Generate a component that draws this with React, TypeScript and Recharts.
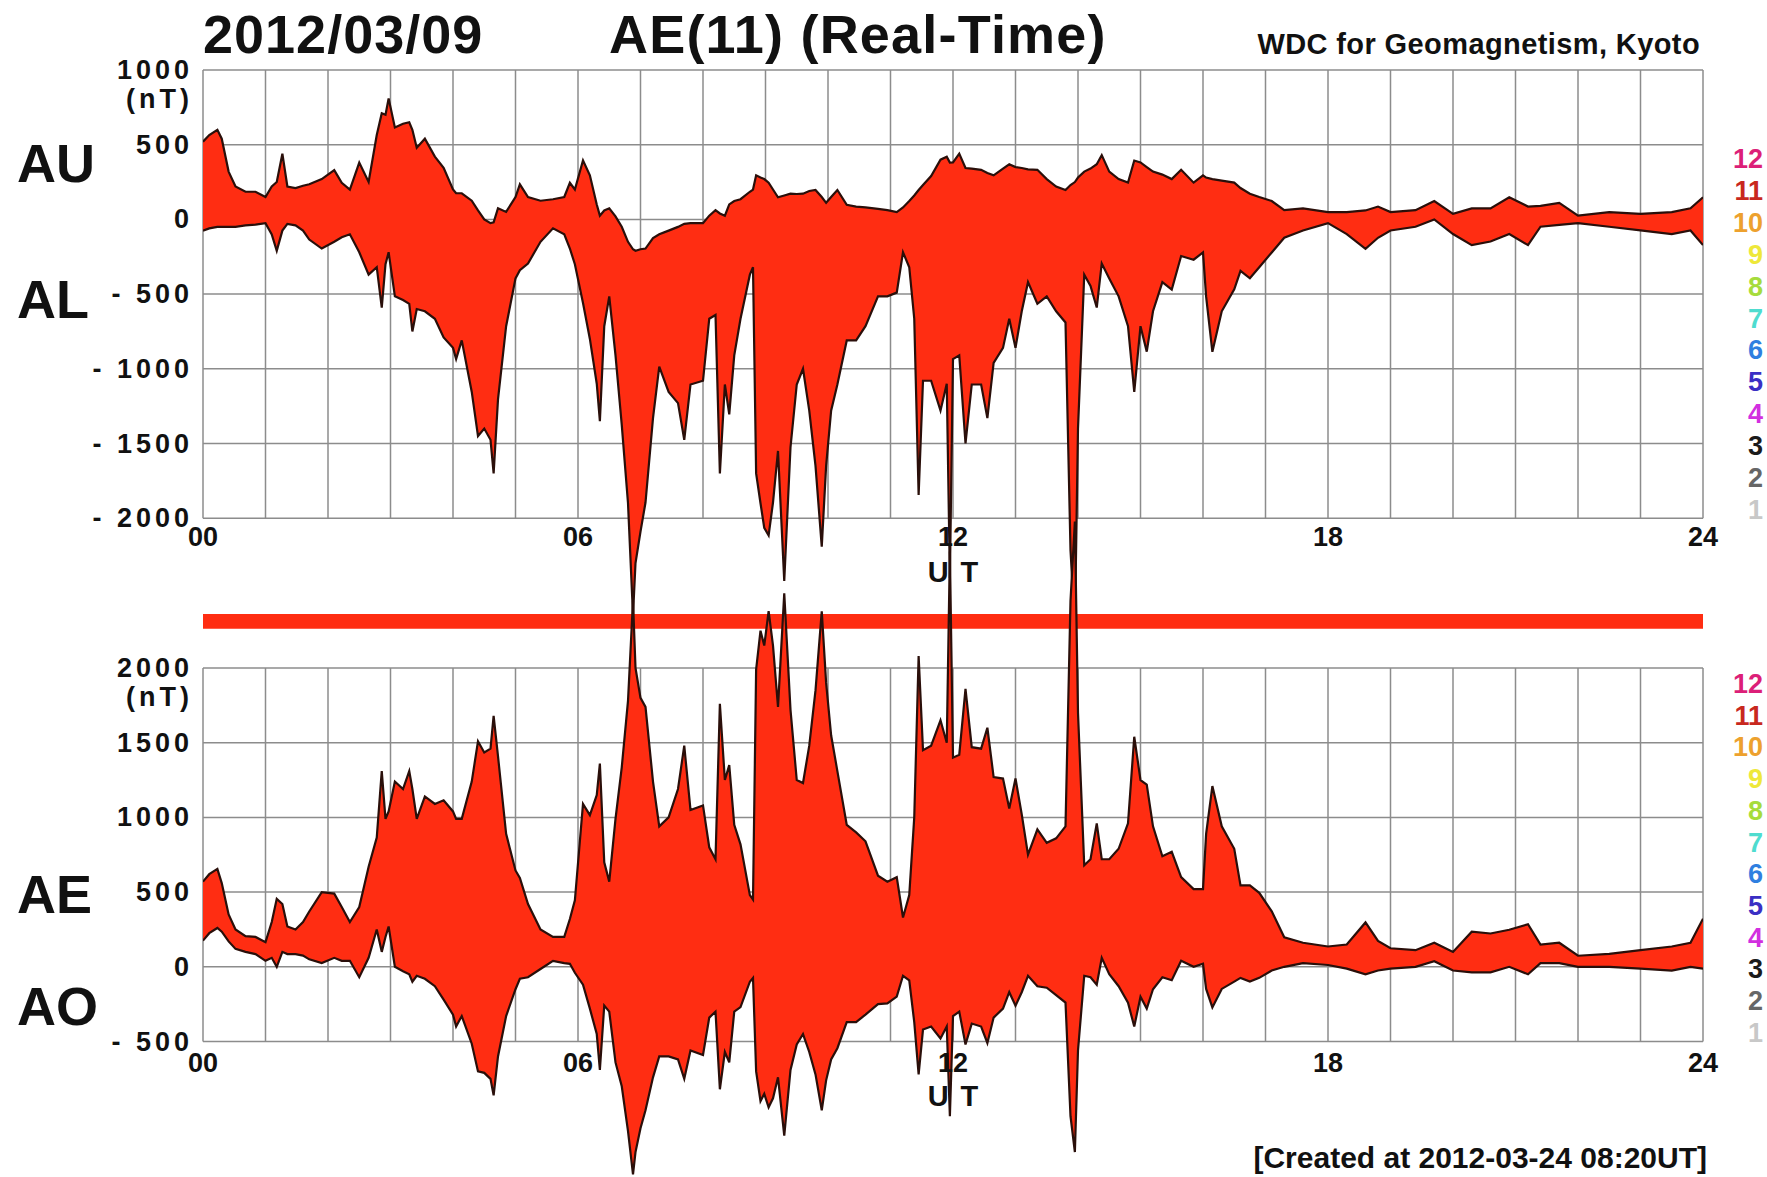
import React from 'react';
import { ComposedChart, Area, XAxis, YAxis, ReferenceLine, ReferenceArea } from 'recharts';

// UT hours of the samples, shared by all four indices
const hours = [
  0, 0.1, 0.23, 0.3, 0.41, 0.52, 0.68, 0.84, 1.0, 1.1, 1.18, 1.27, 1.35, 1.48, 1.6, 1.7, 1.9, 2.1, 2.22, 2.35, 2.5,
  2.65, 2.78, 2.86, 2.92, 2.97, 3.07, 3.2, 3.3, 3.35, 3.42, 3.55, 3.71, 3.85, 4.0, 4.05, 4.14, 4.3, 4.4, 4.5, 4.6,
  4.65, 4.72, 4.85, 5.0, 5.07, 5.2, 5.4, 5.6, 5.78, 5.87, 5.95,
  6.08, 6.19, 6.3, 6.35, 6.42, 6.5, 6.6, 6.7, 6.8, 6.88, 6.92, 7.0, 7.08, 7.2, 7.3, 7.45, 7.6, 7.7, 7.8,
  8.0, 8.1, 8.2, 8.27, 8.35, 8.42, 8.5, 8.6, 8.75, 8.8, 8.85, 8.92, 8.98, 9.05, 9.12, 9.2, 9.3, 9.4, 9.5, 9.6,
  9.7, 9.8, 9.9, 9.97, 10.05, 10.15, 10.3, 10.45, 10.6, 10.8, 10.95, 11.1, 11.2, 11.3, 11.38, 11.45, 11.52, 11.65, 11.8, 11.9, 11.95,
  12.0, 12.1, 12.2, 12.3, 12.45, 12.55, 12.65, 12.8, 12.9, 13.0, 13.1, 13.2, 13.35, 13.5, 13.65, 13.8, 13.88, 13.95, 14.0, 14.1,
  14.2, 14.3, 14.38, 14.5, 14.65, 14.8, 14.9, 15.0, 15.1, 15.2, 15.35, 15.5, 15.65, 15.85,
  16.0, 16.05, 16.15, 16.3, 16.5, 16.6, 16.75, 16.9, 17.1, 17.3, 17.6, 18.0, 18.3, 18.6, 18.8, 19.0, 19.4, 19.7, 20.0, 20.3,
  20.6, 20.9, 21.2, 21.4, 21.7, 22.0, 22.5, 23.0, 23.5, 23.8, 24.0,
];

// AU (nT)
const au = [
  520, 565, 600, 540, 320, 220, 185, 185, 150, 220, 250, 440, 220, 210, 225, 235, 270, 330, 245, 200, 380,
  250, 565, 710, 700, 810, 615, 640, 650, 600, 480, 540, 420, 345, 200, 175, 175, 125, 60, 0, -25,
  -20, 75, 50, 150, 235, 150, 125, 135, 150, 245, 200,
  395, 295, 100, 25, 60, 74, 20, -49, -150, -200, -210, -200, -195, -125, -100, -75, -50, -30, -25,
  -25, 25, 62, 40, 25, 100, 123, 135, 185, 200, 295, 280, 270, 246, 200, 148, 160, 172, 170, 172,
  190, 197, 150, 111, 150, 197, 98, 86, 80, 70, 62, 49, 80, 123, 160, 197, 230, 290, 400, 420, 380,
  381, 440, 344, 340, 332, 310, 295, 340, 369, 350, 344, 335, 332, 270, 220, 197, 230, 250, 280, 320,
  340, 369, 430, 320, 270, 246, 394, 381, 350, 320, 300, 270, 332, 246,
  295, 280, 270, 260, 246, 210, 172, 150, 123, 62, 74, 49, 49, 60, 86, 49, 62, 123, 37, 74,
  74, 148, 86, 90, 111, 25, 49, 37, 49, 74, 148,
];

// AL (nT)
const al = [
  -75, -60, -50, -50, -50, -50, -40, -35, -25, -100, -210, -75, -30, -40, -75, -135, -195, -150, -120, -100, -220,
  -370, -320, -590, -300, -220, -515, -540, -565, -750, -600, -615, -665, -790, -860, -935, -810, -1155, -1450, -1400, -1475,
  -1700, -1205, -715, -395, -340, -295, -150, -60, -100, -195, -300,
  -560, -800, -1100, -1350, -715, -515, -910, -1375, -1900, -2650, -2300, -2090, -1895, -1330, -985, -1155, -1230, -1475, -1105,
  -1080, -665, -640, -1700, -1105, -1305, -910, -665, -370, -320, -1700, -1900, -2065, -2115, -1895, -1550, -2420, -1525, -1105, -1000,
  -1280, -1650, -2190, -1650, -1280, -1105, -810, -810, -715, -515, -515, -490, -220, -320, -665, -1845, -1080, -1080, -1280, -1100, -2400,
  -935, -910, -1500, -1105, -1105, -1330, -960, -860, -665, -860, -615, -420, -565, -515, -615, -690, -2215, -2730, -1400, -370,
  -445, -590, -295, -395, -515, -715, -1155, -715, -885, -615, -420, -470, -245, -270,
  -221, -517, -886, -615, -468, -344, -394, -320, -221, -123, -74, -25, -98, -197, -123, -74, -49, 0, -98, -172,
  -148, -98, -172, -49, -37, -25, -49, -74, -98, -74, -172,
];

// AE (nT)
const ae = [
  570, 620, 655, 560, 350, 250, 205, 200, 165, 300, 455, 420, 270, 250, 300, 370, 500, 490, 400, 300, 400,
  670, 865, 1310, 990, 1040, 1240, 1190, 1310, 1190, 990, 1140, 1090, 1115, 1040, 990, 990, 1240, 1510, 1435, 1460,
  1680, 1410, 890, 645, 595, 420, 250, 200, 200, 320, 445,
  1090, 1015, 1150, 1360, 700, 570, 990, 1335, 1780, 2450, 2000, 1800, 1740, 1240, 940, 1000, 1190, 1480, 1050,
  1080, 800, 720, 1760, 1250, 1350, 950, 820, 480, 450, 1990, 2250, 2150, 2380, 2150, 1740, 2500, 1720, 1250, 1230,
  1480, 1850, 2380, 1900, 1550, 1310, 950, 900, 840, 610, 570, 600, 330, 480, 1000, 2080, 1450, 1480, 1650, 1500, 2780,
  1400, 1420, 1860, 1470, 1460, 1600, 1270, 1260, 1060, 1260, 1020, 750, 920, 830, 860, 940, 2450, 2980, 1700, 680,
  720, 960, 720, 720, 790, 960, 1540, 1250, 1220, 940, 740, 770, 600, 520,
  520, 890, 1210, 940, 790, 545, 545, 495, 371, 198, 161, 136, 149, 297, 173, 124, 111, 161, 99, 235,
  223, 248, 285, 149, 161, 74, 87, 111, 136, 161, 322,
];

// AO (nT)
const ao = [
  175, 225, 260, 235, 170, 120, 100, 85, 40, 60, 0, 100, 85, 85, 75, 50, 25, 60, 40, 40, -70,
  60, 250, 100, 200, 270, 0, -30, -50, -100, -60, -80, -130, -220, -320, -400, -330, -515, -700, -710, -750,
  -860, -600, -330, -150, -80, -70, -15, 40, 25, 20, -40,
  -120, -280, -450, -690, -260, -300, -640, -800, -1100, -1390, -1240, -1080, -960, -740, -600, -600, -620, -750, -560,
  -590, -340, -300, -820, -570, -640, -300, -270, -100, -75, -700, -900, -850, -940, -880, -740, -1130, -690, -520, -450,
  -570, -720, -960, -760, -620, -545, -370, -370, -320, -250, -245, -200, -60, -90, -370, -720, -420, -400, -480, -400, -1000,
  -330, -300, -520, -380, -400, -510, -340, -280, -170, -260, -170, -60, -130, -140, -190, -240, -1000, -1240, -560, -60,
  -70, -120, 60, -50, -130, -240, -400, -200, -280, -150, -70, -90, 40, 0,
  20, -148, -272, -148, -99, -74, -99, -74, -25, 0, 25, 12, -12, -50, -25, -12, 0, 37, -25, -37,
  -37, 0, -50, 25, 25, 0, 0, -12, -25, 0, -12,
];

const topTicks = [1000, 500, 0, -500, -1000, -1500, -2000];
const bottomTicks = [2000, 1500, 1000, 500, 0, -500];
const hourTicks = [0, 6, 12, 18, 24];
const gridHours = Array.from({ length: 25 }, (_, i) => i);

const stationLabels = ['12', '11', '10', '9', '8', '7', '6', '5', '4', '3', '2', '1'];
const stationColors = ['#dc1f78', '#c8281e', '#eda12e', '#eee83a', '#a6dc3c', '#4fdccf', '#2f7fe0', '#3a2fc4', '#d22fe0', '#1a1a1a', '#666666', '#c8c8c8'];

const data = hours.map((h, i) => ({ h, top: [al[i], au[i]], bot: [ao[i], ae[i]] }));

const W = 1767;
const H = 1177;
const PX = 0.1494; // pixels per nT, same in both panels
const TOP_Y0 = 70; // y of the 1000 nT line of the upper panel
const BOT_Y0 = 668; // y of the 2000 nT line of the lower panel
const topDomain = [1000 - (H - TOP_Y0) / PX, 1000 + TOP_Y0 / PX];
const botDomain = [2000 - (H - BOT_Y0) / PX, 2000 + BOT_Y0 / PX];

const FONT = '"Liberation Sans", Arial, Helvetica, sans-serif';
const RED = '#ff2d12';
const OUTLINE = '#2a0f0a';
const GRID = '#8c8c8c';

function YTick(props: any) {
  const { y, payload, unitAt } = props;
  const v = payload.value;
  const label = v < 0 ? `- ${Math.abs(v)}` : String(v);
  const common = { textAnchor: 'end' as const, fontFamily: FONT, fontWeight: 'bold', fontSize: 27, letterSpacing: 4, fill: '#111' };
  return (
    <g>
      <text x={193} y={y + 9} {...common}>{label}</text>
      {v === unitAt && <text x={193} y={y + 38} {...common}>(nT)</text>}
    </g>
  );
}

function XTick(props: any) {
  const { x, payload } = props;
  const label = String(payload.value).padStart(2, '0');
  const common = { textAnchor: 'middle' as const, fontFamily: FONT, fontWeight: 'bold', fill: '#111' };
  return (
    <g>
      <text x={x} y={546} fontSize={27} {...common}>{label}</text>
      <text x={x} y={1072} fontSize={27} {...common}>{label}</text>
      {payload.value === 12 && (
        <>
          <text x={x + 6} y={582} fontSize={29} letterSpacing={12} {...common}>UT</text>
          <text x={x + 6} y={1106} fontSize={29} letterSpacing={12} {...common}>UT</text>
        </>
      )}
    </g>
  );
}

function Labels() {
  const big = { fontFamily: FONT, fontWeight: 'bold', fontSize: 54, fill: '#111' };
  return (
    <svg width={W} height={H} style={{ position: 'absolute', left: 0, top: 0, pointerEvents: 'none' }}>
      <text x={203} y={53} {...big} letterSpacing={1}>2012/03/09</text>
      <text x={609} y={53} {...big} letterSpacing={1.2}>AE(11) (Real-Time)</text>
      <text x={1700} y={54} textAnchor="end" fontFamily={FONT} fontWeight="bold" fontSize={29} letterSpacing={0.4} fill="#111">WDC for Geomagnetism, Kyoto</text>
      <text x={1707} y={1168} textAnchor="end" fontFamily={FONT} fontWeight="bold" fontSize={30} fill="#111">[Created at 2012-03-24 08:20UT]</text>
      <text x={17} y={182} {...big}>AU</text>
      <text x={17} y={318} {...big}>AL</text>
      <text x={17} y={913} {...big}>AE</text>
      <text x={17} y={1025} {...big}>AO</text>
      {stationLabels.map((s, i) => (
        <g key={s}>
          <text x={1763} y={168 + i * 31.9} textAnchor="end" fontFamily={FONT} fontWeight="bold" fontSize={27} fill={stationColors[i]}>{s}</text>
          <text x={1763} y={693 + i * 31.7} textAnchor="end" fontFamily={FONT} fontWeight="bold" fontSize={27} fill={stationColors[i]}>{s}</text>
        </g>
      ))}
    </svg>
  );
}

export default function App() {
  return (
    <div style={{ position: 'absolute', left: 0, top: 0, width: W, height: H, background: '#fff' }}>
      <ComposedChart width={W} height={H} data={data} margin={{ top: 0, right: 0, bottom: -1, left: 0 }}>
        <XAxis dataKey="h" type="number" domain={[0, 24]} ticks={hourTicks} interval={0} allowDataOverflow
          height={1} axisLine={false} tickLine={false} tick={(p: any) => <XTick {...p} />} />
        <YAxis yAxisId="top" type="number" domain={topDomain} ticks={topTicks} interval={0} allowDataOverflow
          width={203} axisLine={false} tickLine={false} tick={(p: any) => <YTick {...p} unitAt={1000} />} />
        <YAxis yAxisId="bot" orientation="right" type="number" domain={botDomain} ticks={bottomTicks} interval={0} allowDataOverflow
          width={64} axisLine={false} tickLine={false} tick={(p: any) => <YTick {...p} unitAt={2000} />} />

        {topTicks.map((v) => (
          <ReferenceLine key={`th${v}`} yAxisId="top" zIndex={-50} segment={[{ x: 0, y: v }, { x: 24, y: v }]} stroke={GRID} strokeWidth={1.5} />
        ))}
        {gridHours.map((h) => (
          <ReferenceLine key={`tv${h}`} yAxisId="top" zIndex={-50} segment={[{ x: h, y: -2000 }, { x: h, y: 1000 }]} stroke={GRID} strokeWidth={1.5} />
        ))}
        {bottomTicks.map((v) => (
          <ReferenceLine key={`bh${v}`} yAxisId="bot" zIndex={-50} segment={[{ x: 0, y: v }, { x: 24, y: v }]} stroke={GRID} strokeWidth={1.5} />
        ))}
        {gridHours.map((h) => (
          <ReferenceLine key={`bv${h}`} yAxisId="bot" zIndex={-50} segment={[{ x: h, y: -500 }, { x: h, y: 2000 }]} stroke={GRID} strokeWidth={1.5} />
        ))}

        {/* station-count bar: 11 stations all day */}
        <ReferenceArea yAxisId="bot" zIndex={-40} x1={0} x2={24} y1={2262} y2={2362} fill={RED} fillOpacity={1} stroke="none" />

        <Area yAxisId="top" dataKey="top" type="linear" fill={RED} fillOpacity={1} stroke={OUTLINE} strokeWidth={2.2}
          dot={false} activeDot={false} isAnimationActive={false} />
        <Area yAxisId="bot" dataKey="bot" type="linear" fill={RED} fillOpacity={1} stroke={OUTLINE} strokeWidth={2.2}
          dot={false} activeDot={false} isAnimationActive={false} />
      </ComposedChart>
      <Labels />
    </div>
  );
}
